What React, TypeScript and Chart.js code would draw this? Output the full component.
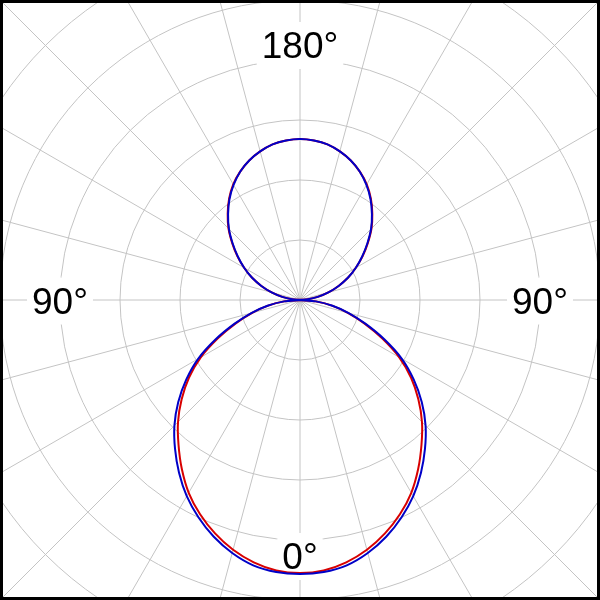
import React, { useEffect, useRef } from "react";
import { Chart, registerables } from "chart.js";

Chart.register(...registerables);

// Angle categories (degrees), one every 5°, 0° at the bottom, clockwise
const ANGLES = [
  0, 5, 10, 15, 20, 25, 30, 35, 40, 45, 50, 55, 60, 65, 70, 75, 80, 85,
  90, 95, 100, 105, 110, 115, 120, 125, 130, 135, 140, 145, 150, 155, 160, 165, 170, 175,
  180, 185, 190, 195, 200, 205, 210, 215, 220, 225, 230, 235, 240, 245, 250, 255, 260, 265,
  270, 275, 280, 285, 290, 295, 300, 305, 310, 315, 320, 325, 330, 335, 340, 345, 350, 355,
];

// Blue series (relative amplitude, 0.2 per ring)
const BLUE = [
  0.913, 0.910, 0.898, 0.873, 0.840, 0.800, 0.755, 0.703, 0.648, 0.592, 0.530, 0.463, 0.392, 0.310, 0.233, 0.168, 0.110, 0.053,
  0.000, 0.027, 0.060, 0.098, 0.137, 0.177, 0.215, 0.253, 0.293, 0.335, 0.373, 0.410, 0.443, 0.472, 0.495, 0.513, 0.527, 0.534,
  0.537, 0.534, 0.527, 0.513, 0.495, 0.472, 0.443, 0.410, 0.373, 0.335, 0.293, 0.253, 0.215, 0.177, 0.137, 0.098, 0.060, 0.027,
  0.000, 0.053, 0.110, 0.168, 0.233, 0.310, 0.392, 0.463, 0.530, 0.592, 0.648, 0.703, 0.755, 0.800, 0.840, 0.873, 0.898, 0.910,
];

// Red series
const RED = [
  0.910, 0.905, 0.888, 0.862, 0.828, 0.788, 0.742, 0.687, 0.630, 0.575, 0.515, 0.452, 0.382, 0.302, 0.228, 0.165, 0.108, 0.053,
  0.000, 0.027, 0.060, 0.098, 0.137, 0.177, 0.215, 0.255, 0.295, 0.337, 0.375, 0.412, 0.445, 0.472, 0.495, 0.513, 0.527, 0.534,
  0.537, 0.534, 0.527, 0.513, 0.495, 0.472, 0.445, 0.412, 0.375, 0.337, 0.295, 0.255, 0.215, 0.177, 0.137, 0.098, 0.060, 0.027,
  0.000, 0.053, 0.108, 0.165, 0.228, 0.302, 0.382, 0.452, 0.515, 0.575, 0.630, 0.687, 0.742, 0.788, 0.828, 0.862, 0.888, 0.905,
];

// Angle axis labels
const AXIS_LABEL_ANGLES = [0, 90, 180, 270];
const AXIS_LABEL_TEXT = ["0°", "90°", "180°", "90°"];

const RING_STEP = 0.2;
const SCALE_MAX = 1.6;

const angleLabelPlugin = {
  id: "angleLabels",
  beforeDatasetsDraw(chart: any) {
    const scale = chart.scales.r;
    const ctx = chart.ctx;
    const step = ANGLES[1] - ANGLES[0];
    ctx.save();
    ctx.font = '37px "Liberation Sans", Arial, sans-serif';
    ctx.textAlign = "center";
    ctx.textBaseline = "alphabetic";
    AXIS_LABEL_ANGLES.forEach((deg, k) => {
      const text = AXIS_LABEL_TEXT[k];
      const idx = deg / step;
      const vertical = deg % 180 === 0;
      const dist = vertical ? 255.5 : 240;
      const pos = scale.getPointPosition(idx, dist);
      const w = ctx.measureText(text).width;
      const baseline = pos.y + 13.5;
      ctx.fillStyle = "#ffffff";
      ctx.fillRect(pos.x - w / 2 - 5, baseline - 36, w + 10, 47);
      ctx.fillStyle = "#000000";
      ctx.fillText(text, pos.x, baseline);
    });
    ctx.restore();
  },
};

export default function App() {
  const ref = useRef<HTMLCanvasElement | null>(null);

  useEffect(() => {
    if (!ref.current) return;
    const gridColor = "#c4c4c4";
    const chart = new Chart(ref.current, {
      type: "radar",
      data: {
        labels: ANGLES.map((a) => String(a)),
        datasets: [
          {
            label: "Blue",
            data: BLUE,
            borderColor: "#0000c8",
            borderWidth: 2,
            pointRadius: 0,
            fill: false,
            tension: 0.3,
          },
          {
            label: "Red",
            data: RED,
            borderColor: "#d80000",
            borderWidth: 2,
            pointRadius: 0,
            fill: false,
            tension: 0.3,
          },
        ],
      },
      options: {
        animation: false,
        responsive: false,
        layout: { padding: 0 },
        plugins: {
          legend: { display: false },
          tooltip: { enabled: false },
        },
        scales: {
          r: {
            min: 0,
            max: SCALE_MAX,
            startAngle: 180,
            ticks: { display: false, stepSize: RING_STEP },
            grid: { circular: true, color: gridColor, lineWidth: 1 },
            angleLines: {
              display: true,
              color: (c: any) => (c.index % 3 === 0 ? gridColor : "rgba(0,0,0,0)"),
              lineWidth: (c: any) => (c.index % 3 === 0 ? 1 : 0),
            },
            pointLabels: { display: false },
          },
        },
      },
      plugins: [angleLabelPlugin],
    });
    return () => chart.destroy();
  }, []);

  return (
    <div
      style={{
        position: "fixed",
        left: 0,
        top: 0,
        width: 600,
        height: 600,
        overflow: "hidden",
        background: "#ffffff",
      }}
    >
      <canvas
        ref={ref}
        width={960}
        height={960}
        style={{ position: "absolute", left: -180, top: -180, width: 960, height: 960 }}
      />
      <div
        style={{
          position: "absolute",
          left: 0,
          top: 0,
          width: 600,
          height: 600,
          boxSizing: "border-box",
          border: "3px solid #000000",
          pointerEvents: "none",
        }}
      />
    </div>
  );
}
